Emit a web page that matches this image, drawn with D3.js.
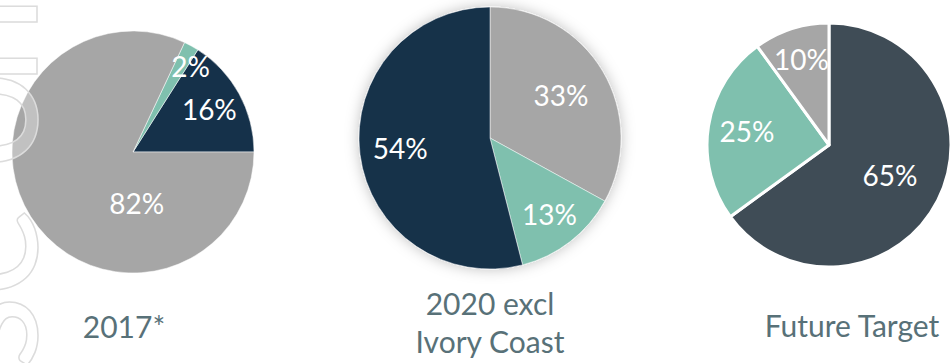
<!DOCTYPE html>
<html>
<head>
<meta charset="utf-8">
<script src="https://cdn.jsdelivr.net/npm/d3@7"></script>
<style>
  body { margin: 0; background: #fff; }
  svg { display: block; }
</style>
</head>
<body>
<div id="chart"></div>
<script>
// data, one set per pie
var cats2017 = ["dark", "green", "grey"];
var values2017 = [16, 2, 82];
var cats2020 = ["grey", "green", "dark"];
var values2020 = [33, 13, 54];
var catsFuture = ["dark", "green", "grey"];
var valuesFuture = [65, 25, 10];
var titles = [["2017*"], ["2020 excl", "Ivory Coast"], ["Future Target"]];

var width = 951, height = 363;

var svg = d3.select("#chart")
  .append("svg")
    .attr("width", width)
    .attr("height", height);

var defs = svg.append("defs");
var shadow = defs.append("filter")
    .attr("id", "glow")
    .attr("x", "-20%").attr("y", "-20%")
    .attr("width", "140%").attr("height", "140%");
shadow.append("feDropShadow")
    .attr("dx", 0).attr("dy", 0)
    .attr("stdDeviation", 7)
    .attr("flood-color", "#000")
    .attr("flood-opacity", 0.25);

// colours per chart
var palette1 = {dark: "#15314a", green: "#7fc0ae", grey: "#a6a6a6"};
var palette3 = {dark: "#3f4c56", green: "#7fc0ae", grey: "#a6a6a6"};

// layout per chart (labelAngle in degrees clockwise from 12 o'clock, null = slice middle)
var charts = [
  {cats: cats2017, values: values2017, colors: palette1, cx: 133, cy: 152, r: 121,
   start: Math.PI / 2, end: Math.PI / 2 - 2 * Math.PI, stroke: 0.5, glow: false,
   labelR: [0.72, 0.85, 0.43], labelAngle: [null, 34, 176],
   titleX: 124, titleY: [338]},
  {cats: cats2020, values: values2020, colors: palette1, cx: 490, cy: 138, r: 131,
   start: 0, end: 2 * Math.PI, stroke: 0.5, glow: true,
   labelR: [0.63, 0.74, 0.69], labelAngle: [null, null, null],
   titleX: 490, titleY: [315, 353]},
  {cats: catsFuture, values: valuesFuture, colors: palette3, cx: 829, cy: 145, r: 122,
   start: 0, end: 2 * Math.PI, stroke: 3, glow: false,
   labelR: [0.56, 0.68, 0.73], labelAngle: [null, null, null],
   titleX: 852, titleY: [337]}
];

charts.forEach(function(c, ci) {
  var pie = d3.pie()
    .sort(null)
    .value(function(d) { return d; })
    .startAngle(c.start)
    .endAngle(c.end);

  var arcs = pie(c.values);

  var arc = d3.arc()
    .innerRadius(0)
    .outerRadius(c.r);

  var g = svg.append("g")
    .attr("transform", "translate(" + c.cx + "," + c.cy + ")");

  var slices = g.append("g");
  if (c.glow) slices.attr("filter", "url(#glow)");

  slices.selectAll("path")
    .data(arcs)
    .enter()
    .append("path")
      .attr("d", arc)
      .attr("fill", function(d, i) { return c.colors[c.cats[i]]; })
      .attr("stroke", "#fff")
      .attr("stroke-width", c.stroke)
      .attr("stroke-linejoin", "round");

  // percentage labels
  g.selectAll("text.lbl")
    .data(arcs)
    .enter()
    .append("text")
      .attr("class", "lbl")
      .attr("transform", function(d, i) {
        var a = c.labelAngle[i] != null ? c.labelAngle[i] * Math.PI / 180 : (d.startAngle + d.endAngle) / 2;
        var rr = c.r * c.labelR[i];
        return "translate(" + (rr * Math.sin(a)) + "," + (-rr * Math.cos(a)) + ")";
      })
      .attr("text-anchor", "middle")
      .attr("dy", "0.36em")
      .style("font-family", "Lato, 'Open Sans', sans-serif")
      .style("font-size", "28px")
      .style("fill", "#fff")
      .text(function(d) { return d.data + "%"; });

  // title under the pie
  var t = svg.append("text")
    .attr("text-anchor", "middle")
    .style("font-family", "Lato, 'Open Sans', sans-serif")
    .style("font-size", "30px")
    .style("fill", "#587178");
  titles[ci].forEach(function(line, li) {
    t.append("tspan")
      .attr("x", c.titleX)
      .attr("y", c.titleY[li])
      .text(line);
  });
});

// faint outlined watermark letters on the left edge (mostly off the page)
var markGlyphs = ["l", "l", "o", "e", "s"];
var markCentres = [14, 66, 120, 251, 333];
svg.append("g")
  .selectAll("text")
  .data(markGlyphs)
  .enter()
  .append("text")
    .attr("transform", function(d, i) { return "translate(37," + markCentres[i] + ") rotate(-90)"; })
    .attr("text-anchor", "middle")
    .style("font-family", "Lato, sans-serif")
    .style("font-size", "175px")
    .style("fill", "rgba(255,255,255,0.3)")
    .style("stroke", "#dcdcdc")
    .style("stroke-width", 1.5)
    .text(function(d) { return d; });
</script>
</body>
</html>
